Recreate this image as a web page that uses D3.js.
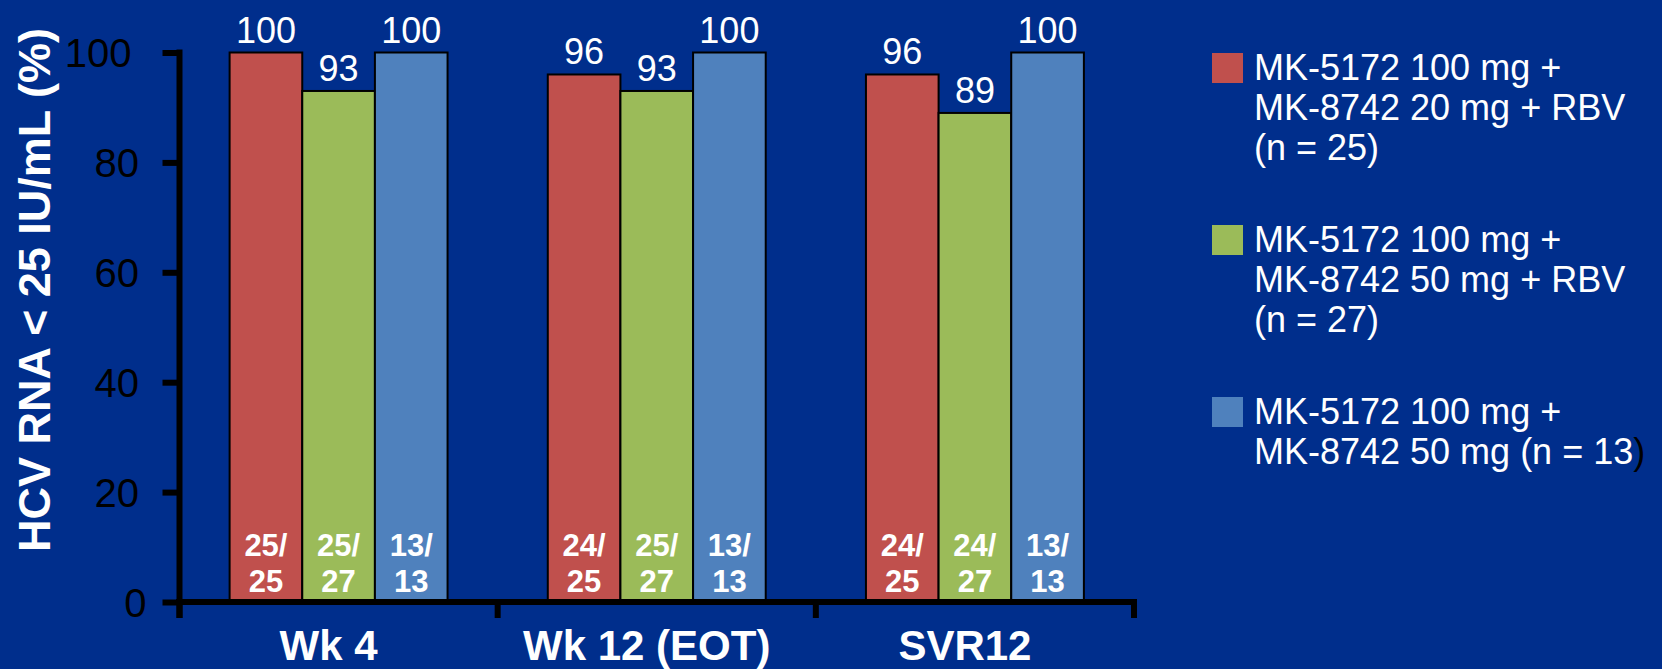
<!DOCTYPE html>
<html>
<head>
<meta charset="utf-8">
<script src="https://cdn.jsdelivr.net/npm/d3@7/dist/d3.min.js"></script>
<style>
  html, body { margin: 0; padding: 0; background: #002E8C; }
  svg { display: block; font-family: "Liberation Sans", Arial, sans-serif; }
</style>
</head>
<body>
<svg id="chart" width="1662" height="669"></svg>
<script>
// Time points on the x axis
const categories = ["Wk 4", "Wk 12 (EOT)", "SVR12"];

// Treatment arms
const seriesKeys = ["arm20rbv", "arm50rbv", "arm50"];
const seriesColors = ["#C0504D", "#9BBB59", "#4F81BD"];
const legendLines = [
  ["MK-5172 100 mg +", "MK-8742 20 mg + RBV", "(n = 25)"],
  ["MK-5172 100 mg +", "MK-8742 50 mg + RBV", "(n = 27)"],
  ["MK-5172 100 mg +", "MK-8742 50 mg (n = 13)"]
];

// Percent with HCV RNA < 25 IU/mL, one value per time point
const arm20rbvPct = [100, 96, 96];
const arm50rbvPct = [93, 93, 89];
const arm50Pct = [100, 100, 100];

// Responders / patients in each arm
const arm20rbvResp = [25, 24, 24];
const arm50rbvResp = [25, 25, 24];
const arm50Resp = [13, 13, 13];
const armTotals = [25, 27, 13];

const yTicks = [0, 20, 40, 60, 80, 100];
const yTitle = "HCV RNA < 25 IU/mL (%)";

const pct = [arm20rbvPct, arm50rbvPct, arm50Pct];
const resp = [arm20rbvResp, arm50rbvResp, arm50Resp];

const svg = d3.select("#chart");
svg.append("rect").attr("width", 1662).attr("height", 669).attr("fill", "#002E8C");

const axisX0 = 179.5, axisX1 = 1134, axisY0 = 602, axisTop = 52.5;

const x0 = d3.scaleBand().domain(categories).range([axisX0, axisX1])
  .paddingInner(0.315).paddingOuter(0.1575);
const x1 = d3.scaleBand().domain(seriesKeys).range([0, x0.bandwidth()]);
const y = d3.scaleLinear().domain([0, 100]).range([axisY0, axisTop]);

// Bars
const rows = [];
categories.forEach((c, ci) => {
  seriesKeys.forEach((k, si) => {
    rows.push({ cat: c, key: k, si, value: pct[si][ci], n: resp[si][ci], total: armTotals[si] });
  });
});

const groups = svg.append("g");
groups.selectAll("rect.bar").data(rows).join("rect")
  .attr("class", "bar")
  .attr("x", d => x0(d.cat) + x1(d.key))
  .attr("y", d => y(d.value))
  .attr("width", x1.bandwidth())
  .attr("height", d => y(0) - y(d.value))
  .attr("fill", d => seriesColors[d.si])
  .attr("stroke", "#000")
  .attr("stroke-width", 2);

// Percent labels above bars
groups.selectAll("text.val").data(rows).join("text")
  .attr("class", "val")
  .attr("x", d => x0(d.cat) + x1(d.key) + x1.bandwidth() / 2)
  .attr("y", d => y(d.value) - 10)
  .attr("text-anchor", "middle")
  .attr("fill", "#fff")
  .attr("font-size", 36)
  .text(d => d.value);

// n/N labels inside bars
const inner = groups.selectAll("text.frac").data(rows).join("text")
  .attr("class", "frac")
  .attr("text-anchor", "middle")
  .attr("fill", "#fff")
  .attr("font-size", 31)
  .attr("font-weight", "bold");
inner.append("tspan")
  .attr("x", d => x0(d.cat) + x1(d.key) + x1.bandwidth() / 2)
  .attr("y", 556)
  .text(d => d.n + "/");
inner.append("tspan")
  .attr("x", d => x0(d.cat) + x1(d.key) + x1.bandwidth() / 2)
  .attr("y", 592)
  .text(d => d.total);

// Y axis
const yAxis = svg.append("g")
  .attr("transform", `translate(${axisX0},0)`)
  .call(d3.axisLeft(y).tickValues(yTicks).tickSize(17).tickPadding(16));
yAxis.select(".domain").remove();
yAxis.selectAll(".tick line").attr("stroke", "#000").attr("stroke-width", 6);
yAxis.selectAll(".tick text")
  .attr("fill", "#000")
  .attr("font-size", 40)
  .attr("font-family", "Liberation Sans, Arial, sans-serif")
  .attr("dy", "0.36em")
  .attr("dx", function () { return -(this.textContent.length - 1) * 7.5; });

svg.append("line")
  .attr("x1", axisX0).attr("x2", axisX0)
  .attr("y1", axisTop - 3).attr("y2", axisY0 + 16)
  .attr("stroke", "#000").attr("stroke-width", 6);

// X axis
svg.append("line")
  .attr("x1", axisX0 - 3.5).attr("x2", axisX1 + 3)
  .attr("y1", axisY0).attr("y2", axisY0)
  .attr("stroke", "#000").attr("stroke-width", 6);

const gap = (x0.step() - x0.bandwidth()) / 2;
const boundaries = categories.map(c => x0(c) - gap).concat([x0(categories[categories.length - 1]) + x0.bandwidth() + gap]);
svg.selectAll("line.sep").data(boundaries).join("line")
  .attr("class", "sep")
  .attr("x1", d => d).attr("x2", d => d)
  .attr("y1", axisY0).attr("y2", axisY0 + 16)
  .attr("stroke", "#000").attr("stroke-width", 6);

const xAxis = svg.append("g")
  .attr("transform", `translate(0,${axisY0})`)
  .call(d3.axisBottom(x0).tickSize(0));
xAxis.select(".domain").remove();
xAxis.selectAll(".tick text")
  .attr("y", 58)
  .attr("dy", 0)
  .attr("dx", -10)
  .attr("fill", "#fff")
  .attr("font-size", 42)
  .attr("font-weight", "bold")
  .attr("font-family", "Liberation Sans, Arial, sans-serif");

// Y axis title
svg.append("text")
  .attr("transform", "translate(50,290) rotate(-90)")
  .attr("text-anchor", "middle")
  .attr("fill", "#fff")
  .attr("font-size", 45)
  .attr("font-weight", "bold")
  .text(yTitle);

// Legend
const legend = svg.append("g");
legendLines.forEach((lines, i) => {
  const top = 53 + i * 172;
  legend.append("rect")
    .attr("x", 1212).attr("y", top)
    .attr("width", 31).attr("height", 30)
    .attr("fill", seriesColors[i]);
  const t = legend.append("text")
    .attr("fill", "#fff")
    .attr("font-size", 36);
  lines.forEach((line, li) => {
    const isLastLine = i === legendLines.length - 1 && li === lines.length - 1;
    const span = t.append("tspan")
      .attr("x", 1254)
      .attr("y", top + 27 + li * 40);
    if (isLastLine && line.endsWith(")")) {
      span.text(line.slice(0, -1));
      t.append("tspan").attr("fill", "#000").text(")");
    } else {
      span.text(line);
    }
  });
});
</script>
</body>
</html>
